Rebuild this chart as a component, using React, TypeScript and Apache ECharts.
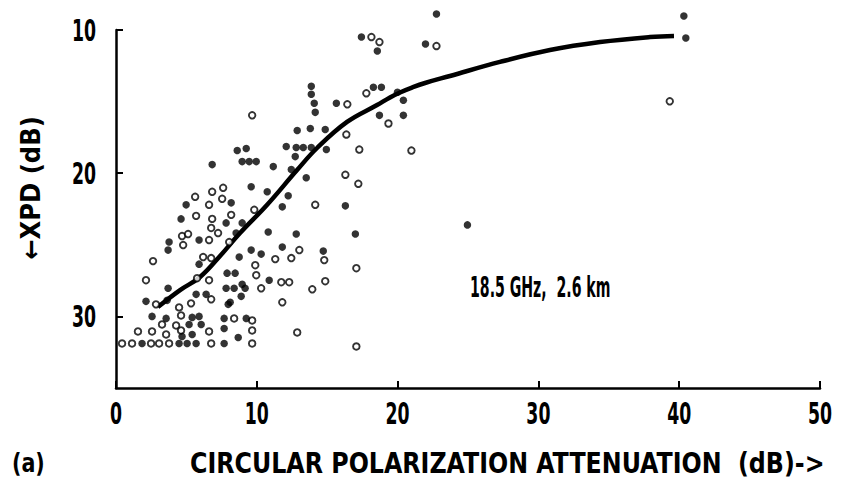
import React, { useEffect, useRef } from "react";
import * as echarts from "echarts";

const xTicks = [0, 10, 20, 30, 40, 50];
const yTicks = [10, 20, 30];

const filledX = [9.6, 10.74, 12.23, 8.18, 4.98, 4.62, 7.82, 8.96, 11.81, 8.53, 5.9, 3.77, 3.7, 10.81, 12.8, 14.72, 9.6, 10.31, 11.81, 8.75, 5.9, 3.7, 7.89, 8.46, 10.88, 7.82, 8.39, 9.17, 8.96, 8.89, 2.13, 3.63, 5.69, 6.4, 7.97, 8.11, 2.56, 3.56, 5.41, 5.9, 5.19, 6.05, 7.68, 9.25, 4.69, 5.41, 7.68, 8.68, 1.85, 4.48, 5.05, 5.69, 7.68, 13.87, 13.87, 14.08, 14.15, 15.65, 12.87, 13.8, 14.86, 8.61, 9.25, 8.96, 9.46, 9.96, 6.83, 11.17, 12.09, 12.8, 13.3, 13.87, 12.73, 12.45, 13.51, 22.76, 17.43, 18.56, 21.98, 18.28, 18.85, 19.99, 20.41, 18.71, 20.41, 14.94, 40.33, 40.47, 16.29, 17.0, 24.96];
const filledY = [20.95, 21.3, 21.58, 22.07, 22.21, 23.19, 23.47, 23.47, 22.35, 24.18, 24.67, 24.81, 25.37, 24.11, 24.25, 25.44, 25.37, 25.65, 25.16, 25.86, 26.35, 28.04, 26.98, 26.98, 27.47, 28.04, 28.04, 28.04, 27.75, 28.6, 28.95, 28.88, 28.46, 28.46, 29.16, 29.02, 30.0, 30.14, 30.07, 30.0, 30.56, 30.56, 30.14, 30.14, 31.4, 31.26, 30.84, 31.47, 31.89, 31.89, 31.89, 31.89, 31.89, 13.93, 14.49, 15.12, 15.75, 15.12, 17.02, 16.88, 16.95, 18.42, 18.28, 19.19, 19.19, 19.19, 19.4, 19.54, 18.14, 18.21, 18.21, 18.21, 18.84, 19.75, 20.32, 8.88, 10.49, 11.47, 10.98, 14.0, 14.0, 14.35, 14.91, 15.96, 15.96, 18.35, 9.02, 10.56, 22.28, 24.25, 23.61];

const openX = [7.61, 14.15, 5.62, 6.83, 7.54, 6.61, 5.69, 6.83, 8.18, 9.82, 6.76, 7.25, 6.61, 4.69, 5.12, 4.77, 2.63, 8.04, 13.02, 14.79, 9.89, 11.31, 12.45, 6.19, 6.76, 2.13, 5.76, 6.61, 9.96, 11.74, 12.3, 14.86, 13.94, 10.31, 11.81, 2.84, 4.48, 5.33, 6.76, 4.62, 8.39, 9.67, 3.27, 4.27, 1.56, 2.56, 3.56, 4.62, 6.61, 9.67, 12.87, 0.43, 1.14, 2.49, 3.06, 3.77, 6.76, 9.67, 9.67, 16.29, 18.14, 18.71, 22.76, 17.78, 16.43, 19.35, 16.36, 17.28, 20.98, 17.21, 39.33, 17.07, 17.07];
const openY = [21.02, 22.21, 21.65, 21.3, 21.79, 22.21, 22.98, 23.19, 22.91, 22.56, 23.82, 24.18, 24.67, 24.39, 24.25, 25.02, 26.14, 24.81, 25.37, 26.07, 26.42, 26.0, 25.93, 25.86, 25.93, 27.47, 27.33, 27.47, 27.12, 27.61, 27.61, 27.54, 28.11, 28.04, 29.02, 29.16, 29.37, 29.09, 28.81, 29.93, 30.14, 30.28, 30.56, 30.63, 31.05, 31.05, 31.26, 30.98, 31.05, 30.98, 31.12, 31.89, 31.89, 31.89, 31.89, 31.89, 31.89, 31.89, 15.96, 20.11, 10.49, 10.84, 11.12, 14.42, 15.19, 16.53, 17.3, 18.35, 18.42, 20.74, 14.98, 26.63, 32.1];

const curveX = [2.98, 4.55, 5.97, 7.39, 8.81, 10.72, 12.86, 14.28, 16.41, 18.54, 19.46, 20.17, 21.02, 21.95, 23.72, 27.27, 30.82, 34.38, 37.93, 39.63];
const curveY = [29.34, 28.16, 27.25, 25.78, 24.18, 22.22, 19.78, 18.24, 16.42, 15.24, 14.71, 14.36, 14.02, 13.7, 13.21, 12.23, 11.4, 10.84, 10.49, 10.42];

const annotation = "18.5 GHz,\u00a0\u00a02.6 km";
const xTitle = "CIRCULAR POLARIZATION ATTENUATION\u00a0\u00a0(dB)->";
const yTitle = "\u2190XPD (dB)";
const panelLabel = "(a)";

const FONT = '"DejaVu Sans Condensed", "DejaVu Sans", sans-serif';

const zip = (xs: number[], ys: number[]) => xs.map((x, i) => [x, ys[i]]);

export default function App() {
  const ref = useRef<HTMLDivElement>(null);
  useEffect(() => {
    if (!ref.current) return;
    const chart = echarts.init(ref.current, null, { renderer: "svg" });
    chart.setOption({
      animation: false,
      backgroundColor: "#fff",
      grid: { left: 116, right: 21, top: 30, bottom: 105 },
      xAxis: {
        type: "value",
        min: 0,
        max: 50,
        interval: 10,
        splitLine: { show: false },
        axisLine: { show: true, lineStyle: { color: "#000", width: 2.5 } },
        axisTick: { show: true, inside: true, length: 7, lineStyle: { color: "#000", width: 2 } },
        axisLabel: { show: false },
      },
      yAxis: {
        type: "value",
        inverse: true,
        min: 10,
        max: 35,
        interval: 10,
        splitLine: { show: false },
        axisLine: { show: true, lineStyle: { color: "#000", width: 2.5 } },
        axisTick: { show: true, inside: true, length: 7, lineStyle: { color: "#000", width: 2 }, customValues: yTicks },
        axisLabel: { show: false },
      },
      series: [
        {
          type: "line",
          data: zip(curveX, curveY),
          smooth: 0.4,
          showSymbol: false,
          clip: false,
          lineStyle: { color: "#000", width: 4.5 },
          z: 3,
        },
        {
          type: "scatter",
          data: zip(openX, openY),
          symbol: "circle",
          symbolSize: 6.5,
          clip: false,
          itemStyle: { color: "#fff", borderColor: "#000", borderWidth: 1.9 },
          z: 4,
        },
        {
          type: "scatter",
          data: zip(filledX, filledY),
          symbol: "circle",
          symbolSize: 7.5,
          clip: false,
          itemStyle: { color: "#000" },
          z: 5,
        },
      ],
    });

    const tickTexts: any[] = [];
    xTicks.forEach((v, i) => {
      const px = chart.convertToPixel({ xAxisIndex: 0 }, v) as number;
      tickTexts.push({
        type: "text",
        id: "xt" + i,
        x: px,
        y: 398,
        scaleX: 0.62,
        style: { text: String(v), fill: "#000", font: `bold 31px ${FONT}`, align: "center", verticalAlign: "top" },
      });
    });
    yTicks.forEach((v, i) => {
      const py = chart.convertToPixel({ yAxisIndex: 0 }, v) as number;
      tickTexts.push({
        type: "text",
        id: "yt" + i,
        x: 96,
        y: py,
        scaleX: 0.62,
        style: { text: String(v), fill: "#000", font: `bold 31px ${FONT}`, align: "right", verticalAlign: "middle" },
      });
    });

    chart.setOption({
      graphic: [
        ...tickTexts,
        {
          type: "text",
          id: "ann",
          x: 470,
          y: 287,
          scaleX: 0.56,
          style: { text: annotation, fill: "#000", font: `bold 28px ${FONT}`, verticalAlign: "middle" },
        },
        {
          type: "text",
          id: "xtitle",
          x: 190,
          y: 463,
          scaleX: 0.91,
          style: { text: xTitle, fill: "#000", font: `bold 29px ${FONT}`, verticalAlign: "middle" },
        },
        {
          type: "text",
          id: "panel",
          x: 12,
          y: 463,
          scaleX: 0.85,
          style: { text: panelLabel, fill: "#000", font: `bold 27px ${FONT}`, verticalAlign: "middle" },
        },
        {
          type: "text",
          id: "ytitle",
          x: 30,
          y: 188,
          rotation: Math.PI / 2,
          style: { text: yTitle, fill: "#000", font: `bold 27px ${FONT}`, align: "center", verticalAlign: "middle" },
        },
      ],
    });
    return () => chart.dispose();
  }, []);
  return <div ref={ref} style={{ width: 841, height: 493, position: "absolute", left: 0, top: 0 }} />;
}
